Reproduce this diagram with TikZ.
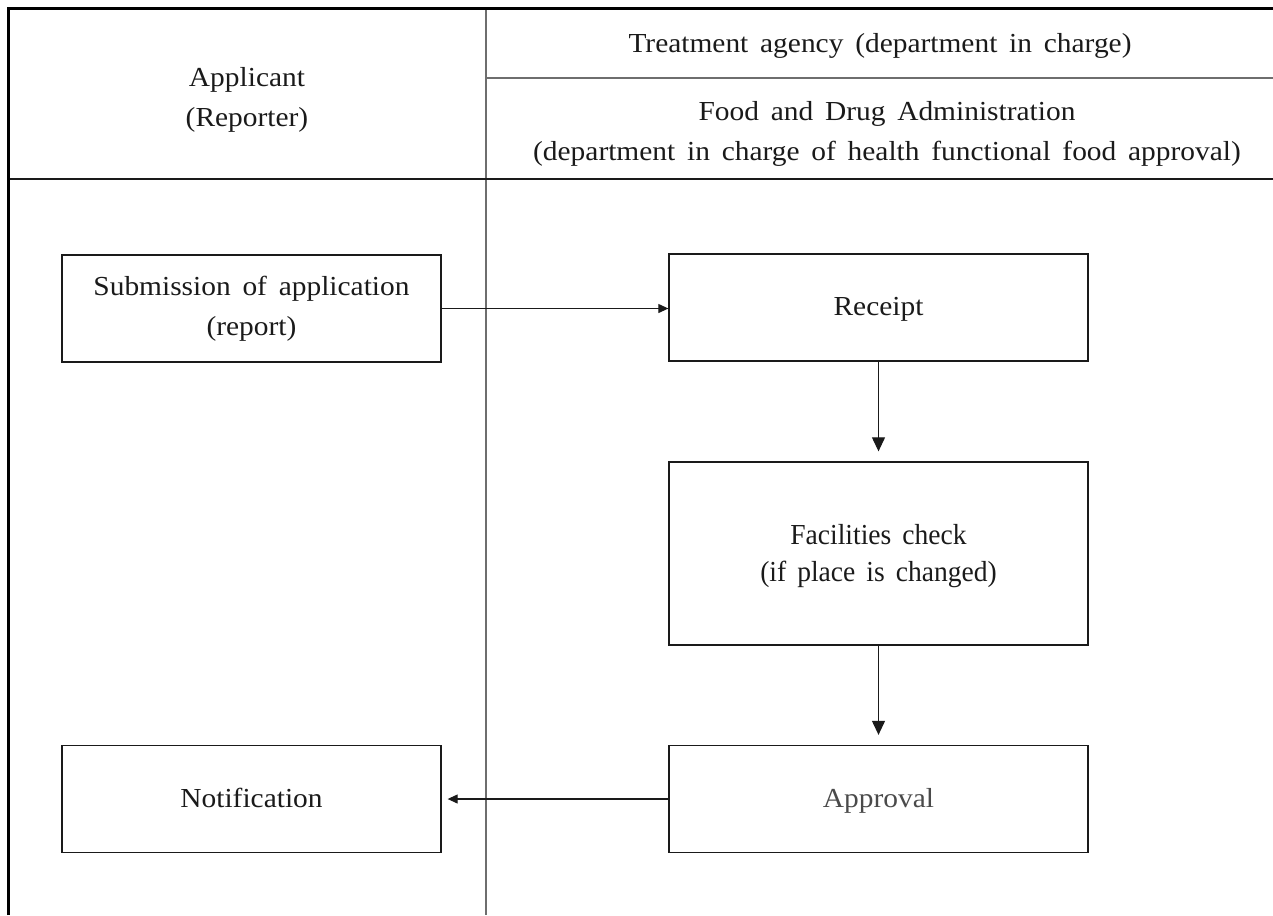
\documentclass[tikz,border=0pt]{standalone}
\usepackage{fontspec}
\setmainfont[WordSpace=1.6, FakeStretch=1.07]{Liberation Serif}
\newfontfamily\narrowserif[WordSpace=1.6, FakeStretch=0.95]{Liberation Serif}
\usetikzlibrary{arrows.meta}
\definecolor{rule}{HTML}{6E6E6E}
\definecolor{ink}{HTML}{1A1A1A}
\definecolor{softink}{HTML}{4A4A4A}
\begin{document}
\begin{tikzpicture}[x=1pt,y=-1pt,
  txt/.style={font=\fontsize{27.5}{40}\selectfont, text=ink, align=center, inner sep=0pt},
  stepbox/.style={draw=ink, line width=1.3pt, minimum width=379pt, minimum height=107pt,
    inner sep=0pt, align=center, font=\fontsize{27.5}{40}\selectfont, text=ink},
  flow/.style={draw=ink, line width=1.1pt, -{Triangle[length=14pt,width=13pt]}},
  sideflow/.style={draw=ink, line width=1.1pt, -{Triangle[length=10pt,width=9pt]}}]
\useasboundingbox (0,0) rectangle (1273,915);

% table frame
\draw[rule, line width=1.3pt] (486,9) -- (486,915);
\draw[rule, line width=1.3pt] (486,78) -- (1273,78);
\draw[ink, line width=1.3pt] (8,179) -- (1273,179);
\draw[black, line width=3pt] (8,915) -- (8,9) -- (1273,9);

% header texts
\node[txt] (app) at (247,100) {Applicant\\(Reporter)};
\node[txt] (agency) at (880,46) {Treatment agency (department in charge)};
\node[txt] (fda) at (887,134) {Food and Drug Administration\\(department in charge of health functional food approval)};

% process steps
\node[stepbox] (sub) at (251.5,308.5) {Submission of application\\(report)};
\node[stepbox, minimum width=419pt] (rec) at (878.5,307.5) {\strut Receipt};
\node[stepbox, minimum width=419pt, minimum height=183pt] (fac) at (878.5,553.5) {};
\node[txt, font=\narrowserif\fontsize{29}{37}\selectfont] (factext) at (fac.center) [yshift=-3pt] {Facilities check\\(if place is changed)};
\node[stepbox, minimum width=419pt, text=softink] (apr) at (878.5,799) {\strut Approval};
\node[stepbox] (note) at (251.5,799) {\strut Notification};

% connectors
\draw[sideflow] (sub.east) -- (sub.east -| rec.west);
\draw[flow, shorten >=10pt] (rec.south) -- (fac.north);
\draw[flow, shorten >=10pt] (fac.south) -- (apr.north);
\draw[sideflow, shorten >=6pt] (apr.west) -- (note.east);
\end{tikzpicture}
\end{document}
